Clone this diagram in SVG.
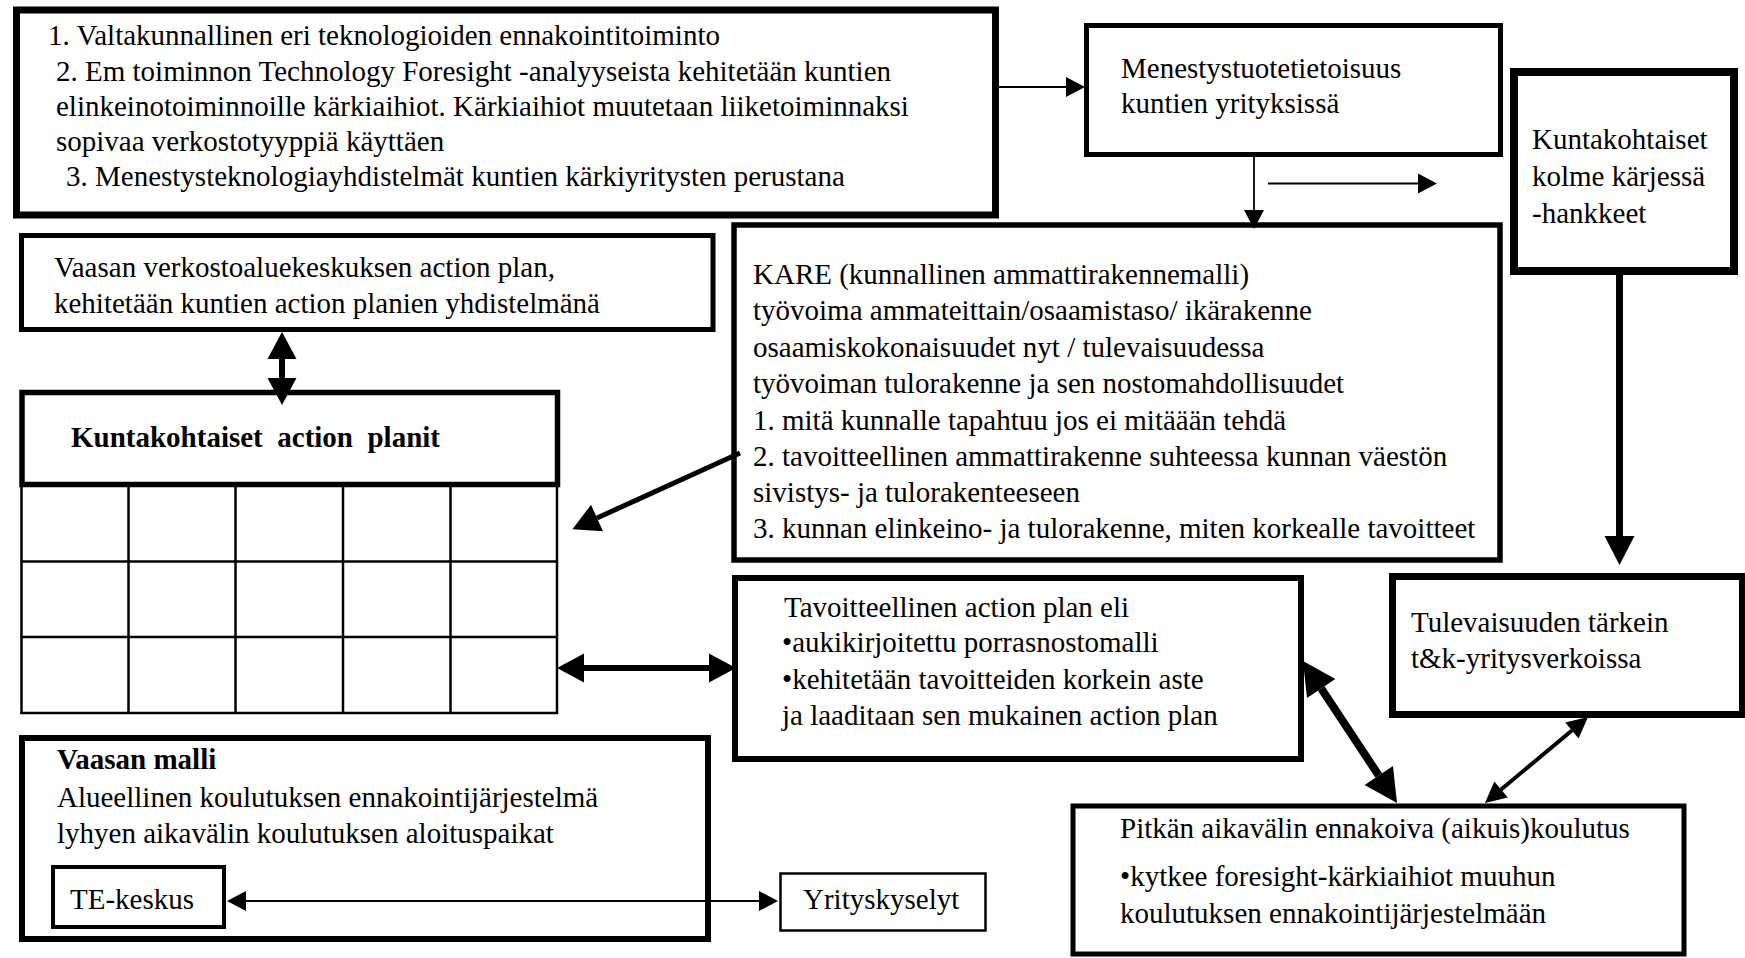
<svg xmlns="http://www.w3.org/2000/svg" width="1745" height="958" viewBox="0 0 1745 958">
  <style>
    text { font-family: "Liberation Serif", "Times New Roman", serif; font-size: 29px; fill: #000; }
    .b { font-weight: bold; }
    .box { fill: #fff; stroke: #000; }
    .grid line { stroke: #000; stroke-width: 2.5; }
    .wire { fill: none; stroke: #000; }
  </style>
  <defs>
    <marker id="headS" markerUnits="userSpaceOnUse" orient="auto-start-reverse" markerWidth="1" markerHeight="1" refX="0" refY="0" style="overflow:visible">
      <path d="M0,-10 L19,0 L0,10 Z" fill="#000"/>
    </marker>
    <marker id="headT" markerUnits="userSpaceOnUse" orient="auto-start-reverse" markerWidth="1" markerHeight="1" refX="0" refY="0" style="overflow:visible">
      <path d="M0,-10.5 L21,0 L0,10.5 Z" fill="#000"/>
    </marker>
    <marker id="headM" markerUnits="userSpaceOnUse" orient="auto-start-reverse" markerWidth="1" markerHeight="1" refX="0" refY="0" style="overflow:visible">
      <path d="M0,-14.5 L27,0 L0,14.5 Z" fill="#000"/>
    </marker>
    <marker id="headL" markerUnits="userSpaceOnUse" orient="auto-start-reverse" markerWidth="1" markerHeight="1" refX="0" refY="0" style="overflow:visible">
      <path d="M0,-15 L29,0 L0,15 Z" fill="#000"/>
    </marker>
    <marker id="headXL" markerUnits="userSpaceOnUse" orient="auto-start-reverse" markerWidth="1" markerHeight="1" refX="0" refY="0" style="overflow:visible">
      <path d="M0,-17 L33,0 L0,17 Z" fill="#000"/>
    </marker>
  </defs>

  <rect width="1745" height="958" fill="#fff"/>

  <!-- national foresight -->
  <g id="foresight">
    <rect class="box" x="16.5" y="10" width="979" height="205" stroke-width="7"/>
    <text x="48" y="45">1. Valtakunnallinen eri teknologioiden ennakointitoiminto</text>
    <text x="56" y="81">2. Em toiminnon Technology Foresight -analyyseista kehitetään kuntien</text>
    <text x="56" y="116">elinkeinotoiminnoille kärkiaihiot. Kärkiaihiot muutetaan liiketoiminnaksi</text>
    <text x="56" y="151">sopivaa verkostotyyppiä käyttäen</text>
    <text x="66" y="186">3. Menestysteknologiayhdistelmät kuntien kärkiyritysten perustana</text>
  </g>

  <g id="menestys">
    <rect class="box" x="1086.5" y="25.5" width="414" height="129" stroke-width="5"/>
    <text x="1121" y="78">Menestystuotetietoisuus</text>
    <text x="1121" y="113">kuntien yrityksissä</text>
  </g>

  <g id="karjessa">
    <rect class="box" x="1514" y="72" width="220" height="199" stroke-width="8"/>
    <text x="1532" y="149">Kuntakohtaiset</text>
    <text x="1532" y="186">kolme kärjessä</text>
    <text x="1532" y="223">-hankkeet</text>
  </g>

  <g id="verkostoalue">
    <rect class="box" x="21.5" y="235.5" width="691.5" height="94" stroke-width="5"/>
    <text x="54" y="277">Vaasan verkostoaluekeskuksen action plan,</text>
    <text x="54" y="313">kehitetään kuntien action planien yhdistelmänä</text>
  </g>

  <g id="actionplanit">
    <rect class="box" x="22" y="392.5" width="535.5" height="92" stroke-width="5.5"/>
    <text class="b" x="71" y="447" xml:space="preserve">Kuntakohtaiset  action  planit</text>
    <g class="grid">
      <line x1="21.5" y1="487" x2="21.5" y2="714"/>
      <line x1="128.5" y1="487" x2="128.5" y2="714"/>
      <line x1="235.5" y1="487" x2="235.5" y2="714"/>
      <line x1="343" y1="487" x2="343" y2="714"/>
      <line x1="450.5" y1="487" x2="450.5" y2="714"/>
      <line x1="557" y1="487" x2="557" y2="714"/>
      <line x1="20.5" y1="561.5" x2="558" y2="561.5"/>
      <line x1="20.5" y1="637" x2="558" y2="637"/>
      <line x1="20.5" y1="713" x2="558" y2="713"/>
    </g>
  </g>

  <g id="kare">
    <rect class="box" x="734" y="225" width="766" height="335" stroke-width="5.5"/>
    <text x="753" y="284">KARE (kunnallinen ammattirakennemalli)</text>
    <text x="753" y="320">työvoima ammateittain/osaamistaso/ ikärakenne</text>
    <text x="753" y="357">osaamiskokonaisuudet nyt / tulevaisuudessa</text>
    <text x="753" y="393">työvoiman tulorakenne ja sen nostomahdollisuudet</text>
    <text x="753" y="430">1. mitä kunnalle tapahtuu jos ei mitäään tehdä</text>
    <text x="753" y="466">2. tavoitteellinen ammattirakenne suhteessa kunnan väestön</text>
    <text x="753" y="502">sivistys- ja tulorakenteeseen</text>
    <text x="753" y="538">3. kunnan elinkeino- ja tulorakenne, miten korkealle tavoitteet</text>
  </g>

  <g id="tavoitteellinen">
    <rect class="box" x="735" y="578" width="566" height="181" stroke-width="6"/>
    <text x="784" y="617">Tavoitteellinen action plan eli</text>
    <text x="782" y="652">•aukikirjoitettu porrasnostomalli</text>
    <text x="782" y="689">•kehitetään tavoitteiden korkein aste</text>
    <text x="782" y="725">ja laaditaan sen mukainen action plan</text>
  </g>

  <g id="tulevaisuus">
    <rect class="box" x="1392.5" y="576.5" width="350" height="138" stroke-width="7"/>
    <text x="1411" y="632">Tulevaisuuden tärkein</text>
    <text x="1411" y="668">t&amp;k-yritysverkoissa</text>
  </g>

  <g id="pitkan">
    <rect class="box" x="1073" y="806" width="611" height="148" stroke-width="5"/>
    <text x="1120" y="838">Pitkän aikavälin ennakoiva (aikuis)koulutus</text>
    <text x="1120" y="886">•kytkee foresight-kärkiaihiot muuhun</text>
    <text x="1120" y="923">koulutuksen ennakointijärjestelmään</text>
  </g>

  <g id="vaasanmalli">
    <rect class="box" x="22" y="738" width="686" height="201" stroke-width="6"/>
    <text class="b" x="57" y="769">Vaasan malli</text>
    <text x="57" y="807">Alueellinen koulutuksen ennakointijärjestelmä</text>
    <text x="57" y="843">lyhyen aikavälin koulutuksen aloituspaikat</text>
  </g>

  <g id="tekeskus">
    <rect class="box" x="53" y="867" width="171" height="60" stroke-width="4"/>
    <text x="70" y="909">TE-keskus</text>
  </g>

  <g id="yrityskyselyt">
    <rect class="box" x="780.5" y="873.5" width="205" height="57" stroke-width="2.5"/>
    <text x="803" y="909">Yrityskyselyt</text>
  </g>

  <!-- connectors -->
  <g id="connectors" class="wire">
    <path d="M999,87 H1066" stroke-width="1.8" marker-end="url(#headS)"/>
    <path d="M1254,157 V210" stroke-width="1.8" marker-end="url(#headS)"/>
    <path d="M1268,183.5 H1418" stroke-width="2" marker-end="url(#headS)"/>
    <path d="M1619.5,273 V536" stroke-width="7" marker-end="url(#headL)"/>
    <path d="M740,453 L597,518" stroke-width="5" marker-end="url(#headM)"/>
    <path d="M282,359 V378" stroke-width="6" marker-start="url(#headM)" marker-end="url(#headM)"/>
    <path d="M584,668 H709" stroke-width="6" marker-start="url(#headM)" marker-end="url(#headM)"/>
    <path d="M1321.2,688.5 L1378.8,775.5" stroke-width="8" marker-start="url(#headXL)" marker-end="url(#headXL)"/>
    <path d="M1571.9,730.5 L1501.1,789.5" stroke-width="4" marker-start="url(#headT)" marker-end="url(#headT)"/>
    <path d="M246,901 H759" stroke-width="2" marker-start="url(#headS)" marker-end="url(#headS)"/>
  </g>
</svg>
